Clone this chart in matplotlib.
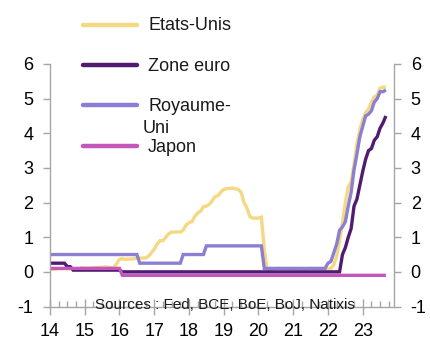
import matplotlib
matplotlib.use("Agg")
import matplotlib.pyplot as plt
from matplotlib.lines import Line2D
from matplotlib.ticker import MultipleLocator

plt.rcParams['font.family'] = ['Liberation Sans', 'DejaVu Sans']

# Monthly policy rates (%), January 2014 onwards
start_year = 2014
n_months = 117

etats_unis = [
    0.07, 0.07, 0.08, 0.09, 0.09, 0.10, 0.09, 0.09, 0.09, 0.09, 0.09, 0.12,   # 2014
    0.11, 0.11, 0.11, 0.12, 0.12, 0.13, 0.13, 0.14, 0.14, 0.12, 0.12, 0.24,   # 2015
    0.36, 0.38, 0.36, 0.37, 0.37, 0.38, 0.39, 0.40, 0.40, 0.40, 0.45, 0.55,   # 2016
    0.65, 0.80, 0.90, 0.90, 1.00, 1.10, 1.15, 1.15, 1.15, 1.15, 1.20, 1.35,   # 2017
    1.42, 1.45, 1.60, 1.70, 1.75, 1.88, 1.90, 1.95, 2.05, 2.17, 2.20, 2.30,   # 2018
    2.38, 2.40, 2.41, 2.42, 2.40, 2.38, 2.30, 2.00, 1.85, 1.60, 1.55, 1.55,   # 2019
    1.55, 1.58, 0.65, 0.05, 0.05, 0.08, 0.09, 0.10, 0.09, 0.09, 0.09, 0.09,   # 2020
    0.09, 0.08, 0.07, 0.07, 0.06, 0.08, 0.10, 0.09, 0.08, 0.08, 0.08, 0.08,   # 2021
    0.08, 0.10, 0.20, 0.45, 0.90, 1.40, 2.00, 2.45, 2.60, 3.10, 3.70, 4.10,   # 2022
    4.40, 4.60, 4.70, 4.90, 5.05, 5.10, 5.30, 5.33, 5.33,                     # 2023
]

zone_euro = [
    0.25, 0.25, 0.25, 0.25, 0.25, 0.25, 0.15, 0.15, 0.05, 0.05, 0.05, 0.05,   # 2014
    0.05, 0.05, 0.05, 0.05, 0.05, 0.05, 0.05, 0.05, 0.05, 0.05, 0.05, 0.05,   # 2015
    0.05, 0.00, 0.00, 0.00, 0.00, 0.00, 0.00, 0.00, 0.00, 0.00, 0.00, 0.00,   # 2016
    0.00, 0.00, 0.00, 0.00, 0.00, 0.00, 0.00, 0.00, 0.00, 0.00, 0.00, 0.00,   # 2017
    0.00, 0.00, 0.00, 0.00, 0.00, 0.00, 0.00, 0.00, 0.00, 0.00, 0.00, 0.00,   # 2018
    0.00, 0.00, 0.00, 0.00, 0.00, 0.00, 0.00, 0.00, 0.00, 0.00, 0.00, 0.00,   # 2019
    0.00, 0.00, 0.00, 0.00, 0.00, 0.00, 0.00, 0.00, 0.00, 0.00, 0.00, 0.00,   # 2020
    0.00, 0.00, 0.00, 0.00, 0.00, 0.00, 0.00, 0.00, 0.00, 0.00, 0.00, 0.00,   # 2021
    0.00, 0.00, 0.00, 0.00, 0.00, 0.50, 0.70, 1.00, 1.25, 1.90, 2.10, 2.50,   # 2022
    2.90, 3.25, 3.50, 3.56, 3.80, 3.90, 4.15, 4.30, 4.50,                     # 2023
]

royaume_uni = [
    0.50, 0.50, 0.50, 0.50, 0.50, 0.50, 0.50, 0.50, 0.50, 0.50, 0.50, 0.50,   # 2014
    0.50, 0.50, 0.50, 0.50, 0.50, 0.50, 0.50, 0.50, 0.50, 0.50, 0.50, 0.50,   # 2015
    0.50, 0.50, 0.50, 0.50, 0.50, 0.50, 0.50, 0.25, 0.25, 0.25, 0.25, 0.25,   # 2016
    0.25, 0.25, 0.25, 0.25, 0.25, 0.25, 0.25, 0.25, 0.25, 0.25, 0.50, 0.50,   # 2017
    0.50, 0.50, 0.50, 0.50, 0.50, 0.50, 0.75, 0.75, 0.75, 0.75, 0.75, 0.75,   # 2018
    0.75, 0.75, 0.75, 0.75, 0.75, 0.75, 0.75, 0.75, 0.75, 0.75, 0.75, 0.75,   # 2019
    0.75, 0.75, 0.10, 0.10, 0.10, 0.10, 0.10, 0.10, 0.10, 0.10, 0.10, 0.10,   # 2020
    0.10, 0.10, 0.10, 0.10, 0.10, 0.10, 0.10, 0.10, 0.10, 0.10, 0.10, 0.10,   # 2021
    0.25, 0.30, 0.55, 0.80, 1.20, 1.30, 1.45, 1.90, 2.30, 2.95, 3.40, 3.90,   # 2022
    4.20, 4.50, 4.55, 4.65, 4.90, 5.00, 5.20, 5.20, 5.25,                     # 2023
]

japon = [
    0.10, 0.10, 0.10, 0.10, 0.10, 0.10, 0.10, 0.10, 0.10, 0.10, 0.10, 0.10,   # 2014
    0.10, 0.10, 0.10, 0.10, 0.10, 0.10, 0.10, 0.10, 0.10, 0.10, 0.10, 0.10,   # 2015
    0.10, -0.10, -0.10, -0.10, -0.10, -0.10, -0.10, -0.10, -0.10, -0.10, -0.10, -0.10,  # 2016
    -0.10, -0.10, -0.10, -0.10, -0.10, -0.10, -0.10, -0.10, -0.10, -0.10, -0.10, -0.10,  # 2017
    -0.10, -0.10, -0.10, -0.10, -0.10, -0.10, -0.10, -0.10, -0.10, -0.10, -0.10, -0.10,  # 2018
    -0.10, -0.10, -0.10, -0.10, -0.10, -0.10, -0.10, -0.10, -0.10, -0.10, -0.10, -0.10,  # 2019
    -0.10, -0.10, -0.10, -0.10, -0.10, -0.10, -0.10, -0.10, -0.10, -0.10, -0.10, -0.10,  # 2020
    -0.10, -0.10, -0.10, -0.10, -0.10, -0.10, -0.10, -0.10, -0.10, -0.10, -0.10, -0.10,  # 2021
    -0.10, -0.10, -0.10, -0.10, -0.10, -0.10, -0.10, -0.10, -0.10, -0.10, -0.10, -0.10,  # 2022
    -0.10, -0.10, -0.10, -0.10, -0.10, -0.10, -0.10, -0.10, -0.10,                       # 2023
]

series_names = ["Etats-Unis", "Zone euro", "Royaume-\nUni", "Japon"]
series_values = [etats_unis, zone_euro, royaume_uni, japon]
series_colors = ["#F4D882", "#521B72", "#8A7FD2", "#C556BC"]

year_ticks = [2014, 2015, 2016, 2017, 2018, 2019, 2020, 2021, 2022, 2023]
year_labels = ["14", "15", "16", "17", "18", "19", "20", "21", "22", "23"]
y_ticks = [-1, 0, 1, 2, 3, 4, 5, 6]

# decimal-year position of each month
x = [start_year + m / 12 for m in range(n_months)]

W, H = 430, 341
fig = plt.figure(figsize=(W / 100, H / 100), dpi=100)
ax = fig.add_axes([50 / W, 1 - 306.5 / H, 344 / W, 242.5 / H])

for vals, col in zip(series_values, series_colors):
    ax.plot(x, vals, color=col, lw=2.4, solid_joinstyle='miter', solid_capstyle='butt')

ax.set_xlim(2014, 2023.9)
ax.set_ylim(-1, 6)

grey = "#A6A6A6"
ax.spines["top"].set_visible(False)
for side in ("left", "right", "bottom"):
    ax.spines[side].set_color(grey)
    ax.spines[side].set_linewidth(1.0)

ax.set_yticks(y_ticks)
ax.set_yticklabels([str(v) for v in y_ticks])
ax.tick_params(axis='y', which='major', direction='out', length=5, width=1,
               color=grey, labelsize=13, pad=7, left=True, right=True,
               labelleft=True, labelright=True)

ax.set_xticks(year_ticks)
ax.set_xticklabels(year_labels)
ax.xaxis.set_minor_locator(MultipleLocator(0.25))
ax.tick_params(axis='x', which='major', direction='inout', length=11, width=1,
               color=grey, labelsize=13, pad=6.2)
ax.tick_params(axis='x', which='minor', direction='in', length=4, width=1, color=grey)

ax.text(0.509, -0.01, "Sources : Fed, BCE, BoE, BoJ, Natixis", transform=ax.transAxes,
        ha='center', va='baseline', fontsize=11, color="#1a1a1a", clip_on=False)

# legend drawn in figure space
legend_rows = [24.5, 65, 105.5, 145.5]
for name, col, yp in zip(series_names, series_colors, legend_rows):
    fy = 1 - yp / H
    fig.add_artist(Line2D([83 / W, 137 / W], [fy, fy], transform=fig.transFigure,
                          color=col, lw=3.2, solid_capstyle='round'))
    first, *rest = name.split("\n")
    fig.text(148 / W, 1 - (yp + 1.5) / H, first, ha='left', va='center',
             fontsize=13, color="#1a1a1a")
    if rest:
        fig.text(143 / W, 1 - (yp + 23) / H, rest[0], ha='left', va='center',
                 fontsize=13, color="#1a1a1a")

fig.savefig("out.png", dpi=100)
